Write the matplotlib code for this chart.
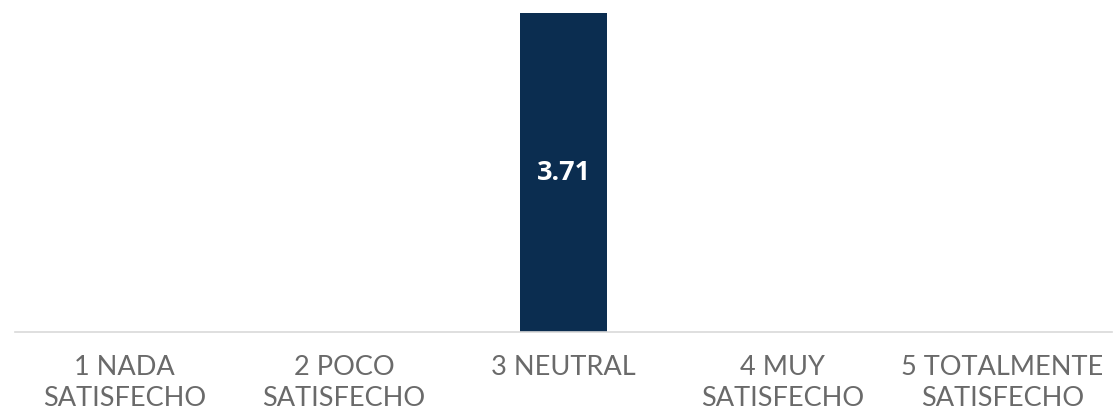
import matplotlib
matplotlib.use("Agg")
import matplotlib.pyplot as plt

categories = ["1 NADA\nSATISFECHO", "2 POCO\nSATISFECHO", "3 NEUTRAL",
              "4 MUY\nSATISFECHO", "5 TOTALMENTE\nSATISFECHO"]
values = [0, 0, 3.71, 0, 0]
bar_color = "#0b2d50"

W, H = 1113, 410
fig = plt.figure(figsize=(W / 100, H / 100), dpi=100)
ax = fig.add_axes([15 / W, (H - 333) / H, (1112 - 15) / W, (333 - 14) / H])

x = list(range(len(categories)))
bars = ax.bar(x, values, width=0.4, color=bar_color)
ax.set_xlim(-0.5, len(categories) - 0.5)
ax.set_ylim(0, max(values))

for rect, v in zip(bars, values):
    if v > 0:
        ax.text(rect.get_x() + rect.get_width() / 2, v / 2, f"{v:.2f}",
                ha="center", va="center", color="white", fontsize=19.5,
                fontweight="bold", family=["Open Sans", "DejaVu Sans"])

ax.set_xticks(x)
ax.set_xticklabels(categories, fontsize=19.5, color="#6a6a6a",
                   family=["Lato", "DejaVu Sans"], fontweight="normal",
                   linespacing=1.3, va="top")
ax.tick_params(axis="x", length=0, pad=16)
ax.set_yticks([])
for s in ["top", "left", "right"]:
    ax.spines[s].set_visible(False)
ax.spines["bottom"].set_color("#d9d9d9")
ax.spines["bottom"].set_linewidth(1.2)

fig.savefig("out.png", dpi=100)
